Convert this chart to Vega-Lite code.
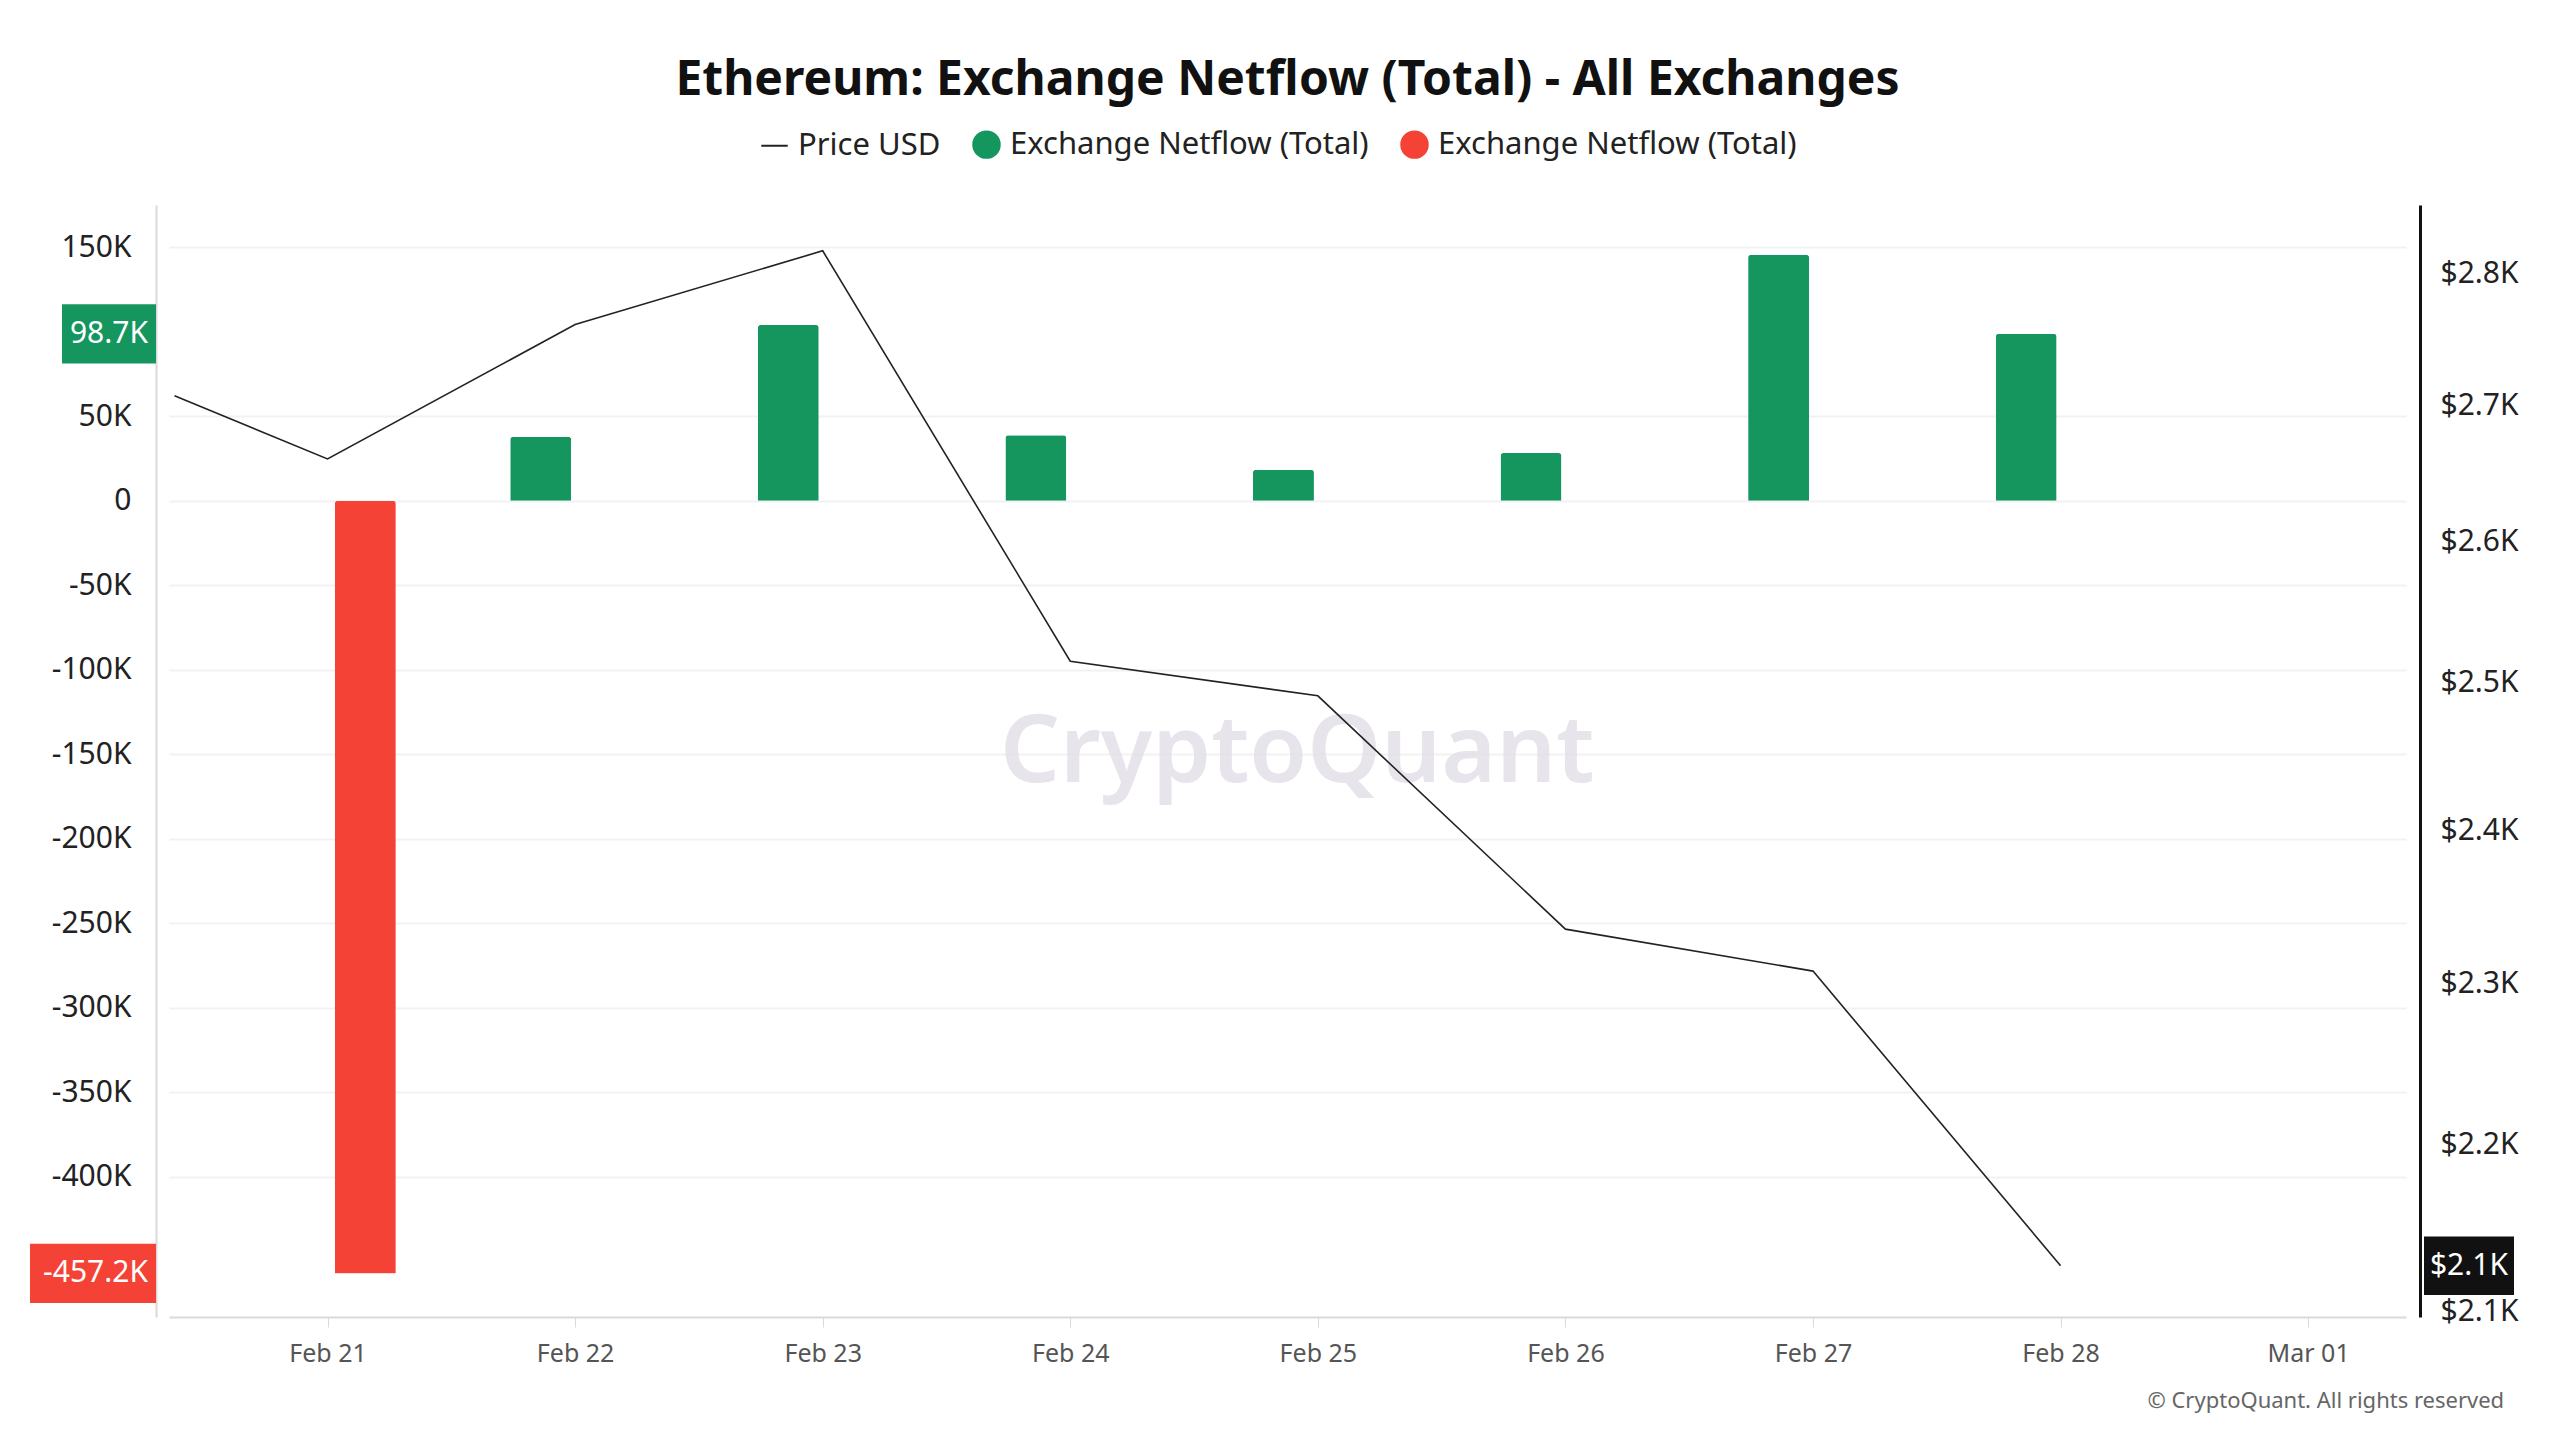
{
  "$schema": "https://vega.github.io/schema/vega-lite/v6.json",
  "width": 2237,
  "height": 1112,
  "autosize": {"type": "none"},
  "padding": {"left": 169, "top": 205, "right": 154, "bottom": 123},
  "background": "white",
  "config": {
    "font": "Noto Sans",
    "view": {"stroke": null},
    "axis": {"labelFont": "Noto Sans", "titleFont": "Noto Sans"}
  },
  "title": {
    "text": "Ethereum: Exchange Netflow (Total) - All Exchanges",
    "fontSize": 48,
    "fontWeight": "bold",
    "color": "#111111",
    "anchor": "middle",
    "offset": 24
  },
  "datasets": {
    "flow": [
      {"date": "2025-02-21T03:40:00", "netflow": -457200, "sign": "neg"},
      {"date": "2025-02-21T20:40:00", "netflow": 37900, "sign": "pos"},
      {"date": "2025-02-22T20:40:00", "netflow": 104000, "sign": "pos"},
      {"date": "2025-02-23T20:40:00", "netflow": 38800, "sign": "pos"},
      {"date": "2025-02-24T20:40:00", "netflow": 18400, "sign": "pos"},
      {"date": "2025-02-25T20:40:00", "netflow": 28200, "sign": "pos"},
      {"date": "2025-02-26T20:40:00", "netflow": 145600, "sign": "pos"},
      {"date": "2025-02-27T20:40:00", "netflow": 98700, "sign": "pos"}
    ],
    "price": [
      {"date": "2025-02-20T09:10:00", "price": 2707},
      {"date": "2025-02-21T00:00:00", "price": 2660},
      {"date": "2025-02-22T00:00:00", "price": 2761},
      {"date": "2025-02-23T00:00:00", "price": 2818},
      {"date": "2025-02-24T00:00:00", "price": 2515},
      {"date": "2025-02-25T00:00:00", "price": 2491},
      {"date": "2025-02-26T00:00:00", "price": 2335},
      {"date": "2025-02-27T00:00:00", "price": 2308},
      {"date": "2025-02-28T00:00:00", "price": 2127}
    ],
    "leftTags": [
      {"value": 98700, "label": "98.7K", "sign": "pos"},
      {"value": -457200, "label": "-457.2K", "sign": "neg"}
    ],
    "rightTags": [{"value": 2127, "label": "$2.1K"}],
    "notes": [
      {"date": "2025-02-24T22:00:00", "value": -150000, "t": "CryptoQuant", "kind": "mark"},
      {"date": "2025-03-01T19:00:00", "value": -533000, "t": "© CryptoQuant. All rights reserved", "kind": "copy"}
    ],
    "legend": [
      {"date": "2025-02-25T00:00:00", "value": 0, "key": "Price USD"},
      {"date": "2025-02-25T00:00:00", "value": 0, "key": "pos"},
      {"date": "2025-02-25T00:00:00", "value": 0, "key": "neg"}
    ]
  },
  "encoding": {
    "x": {
      "field": "date",
      "type": "temporal",
      "scale": {"domain": ["2025-02-20T09:07:00", "2025-03-01T09:00:00"]},
      "axis": {
        "values": ["2025-02-21T00:00:00", "2025-02-22T00:00:00", "2025-02-23T00:00:00", "2025-02-24T00:00:00", "2025-02-25T00:00:00", "2025-02-26T00:00:00", "2025-02-27T00:00:00", "2025-02-28T00:00:00", "2025-03-01T00:00:00"],
        "format": "%b %d",
        "title": null,
        "grid": false,
        "domainColor": "#d9d9d9",
        "domainWidth": 2,
        "tickColor": "#d9d9d9",
        "tickSize": 10,
        "labelFontSize": 25,
        "labelColor": "#555555",
        "labelPadding": 14
      }
    }
  },
  "resolve": {"scale": {"y": "independent"}, "axis": {"y": "independent"}},
  "layer": [
    {
      "encoding": {
        "y": {
          "type": "quantitative",
          "scale": {"domain": [-483000, 175000], "nice": false},
          "axis": {
            "values": [-400000, -350000, -300000, -250000, -200000, -150000, -100000, -50000, 0, 50000, 150000],
            "labelExpr": "datum.value == 0 ? '0' : (datum.value < 0 ? '-' : '') + format(abs(datum.value) / 1000, 'd') + 'K'",
            "title": null,
            "offset": 13,
            "domainColor": "#d9d9d9",
            "domainWidth": 2,
            "ticks": false,
            "labelFontSize": 30,
            "labelColor": "#222222",
            "labelPadding": 25,
            "gridColor": "#f2f2f2",
            "gridWidth": 2
          }
        }
      },
      "layer": [
        {
          "data": {"name": "notes"},
          "transform": [{"filter": "datum.kind == 'mark'"}],
          "mark": {"type": "text", "fontSize": 94, "fontWeight": 600, "color": "#e3e1e8", "opacity": 0.85, "baseline": "middle", "align": "center"},
          "encoding": {"y": {"field": "value"}, "text": {"field": "t"}}
        },
        {
          "data": {"name": "notes"},
          "transform": [{"filter": "datum.kind == 'copy'"}],
          "mark": {"type": "text", "fontSize": 22, "color": "#666666", "align": "right", "baseline": "middle", "clip": false},
          "encoding": {"y": {"field": "value"}, "text": {"field": "t"}}
        },
        {
          "data": {"name": "flow"},
          "mark": {"type": "bar", "size": 61, "cornerRadiusEnd": 3},
          "encoding": {
            "y": {"field": "netflow"},
            "color": {
              "field": "sign",
              "type": "nominal",
              "scale": {"domain": ["pos", "neg"], "range": ["#16965f", "#f44336"]},
              "legend": null
            }
          }
        },
        {
          "data": {"name": "leftTags"},
          "transform": [{"filter": "datum.sign == 'pos'"}],
          "mark": {"type": "point", "shape": "M-1,-0.63L1,-0.63L1,0.63L-1,0.63Z", "filled": true, "size": 8836, "opacity": 1, "clip": false, "color": "#16965f"},
          "encoding": {"x": {"value": -60}, "y": {"field": "value"}}
        },
        {
          "data": {"name": "leftTags"},
          "transform": [{"filter": "datum.sign == 'neg'"}],
          "mark": {"type": "point", "shape": "M-1,-0.47L1,-0.47L1,0.47L-1,0.47Z", "filled": true, "size": 15876, "opacity": 1, "clip": false, "color": "#f44336"},
          "encoding": {"x": {"value": -76}, "y": {"field": "value"}}
        },
        {
          "data": {"name": "leftTags"},
          "mark": {"type": "text", "align": "right", "baseline": "middle", "fontSize": 30, "color": "white", "clip": false},
          "encoding": {
            "x": {"value": -21},
            "y": {"field": "value"},
            "text": {"field": "label"}
          }
        },
        {
          "data": {"name": "legend"},
          "mark": {"type": "point", "opacity": 0},
          "encoding": {
            "y": {"field": "value"},
            "fill": {
              "field": "key",
              "type": "nominal",
              "scale": {"domain": ["Price USD", "pos", "neg"], "range": ["#222222", "#16965f", "#f44336"]},
              "legend": {
                "orient": "none",
                "legendX": 590,
                "legendY": -76,
                "direction": "horizontal",
                "title": null,
                "labelExpr": "datum.label == 'Price USD' ? 'Price USD' : 'Exchange Netflow (Total)'",
                "labelFontSize": 31,
                "labelLimit": 600,
                "labelColor": "#222222",
                "symbolSize": 700,
                "symbolOpacity": 1,
                "symbolStrokeWidth": 2,
                "columnPadding": 28,
                "labelOffset": 8,
                "encode": {"symbols": {"update": {"fill": {"scale": "fill", "field": "value"}}}}
              }
            },
            "stroke": {
              "field": "key",
              "type": "nominal",
              "scale": {"domain": ["Price USD", "pos", "neg"], "range": ["#222222", "#16965f", "#f44336"]}
            },
            "shape": {
              "field": "key",
              "type": "nominal",
              "scale": {"domain": ["Price USD", "pos", "neg"], "range": ["stroke", "circle", "circle"]}
            }
          }
        }
      ]
    },
    {
      "encoding": {
        "y": {
          "type": "quantitative",
          "scale": {"type": "log", "domain": [2097, 2854], "nice": false, "zero": false},
          "axis": {
            "orient": "right",
            "values": [2100, 2200, 2300, 2400, 2500, 2600, 2700, 2800],
            "labelExpr": "'$' + format(datum.value / 1000, '.1f') + 'K'",
            "title": null,
            "grid": false,
            "ticks": false,
            "offset": 14,
            "domainColor": "#111111",
            "domainWidth": 3,
            "labelFontSize": 30,
            "labelColor": "#222222",
            "labelPadding": 20
          }
        }
      },
      "layer": [
        {
          "data": {"name": "price"},
          "mark": {"type": "line", "color": "#222222", "strokeWidth": 1.6},
          "encoding": {"y": {"field": "price"}}
        },
        {
          "data": {"name": "rightTags"},
          "mark": {"type": "point", "shape": "M-1,-0.65L1,-0.65L1,0.65L-1,0.65Z", "filled": true, "size": 8100, "color": "#111111", "opacity": 1, "clip": false},
          "encoding": {"x": {"value": 2300}, "y": {"field": "value"}}
        },
        {
          "data": {"name": "rightTags"},
          "mark": {"type": "text", "align": "center", "baseline": "middle", "fontSize": 30, "color": "white", "clip": false},
          "encoding": {"x": {"value": 2300}, "y": {"field": "value"}, "text": {"field": "label"}}
        }
      ]
    }
  ]
}
